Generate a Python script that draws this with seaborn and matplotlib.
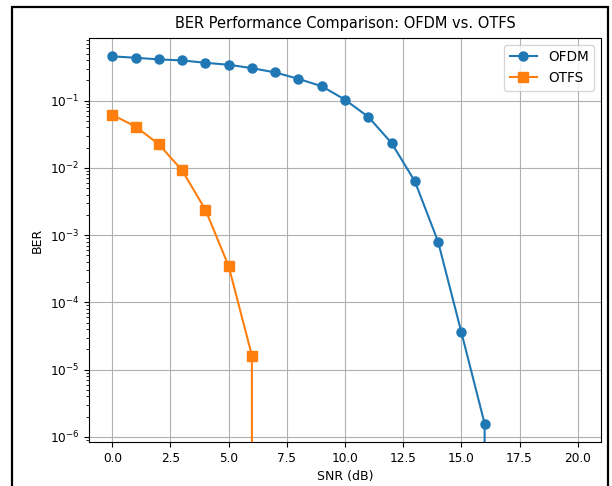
import numpy as np
import pandas as pd
import matplotlib
matplotlib.use("Agg")
import matplotlib.pyplot as plt
import seaborn as sns
from matplotlib.patches import Rectangle

# SNR points (dB)
snr_db = list(range(0, 21))

# BER values (0 = no errors, clipped on the log axis)
ber_ofdm = [0.456, 0.435, 0.411, 0.397, 0.366, 0.342, 0.305, 0.263, 0.211, 0.164,
            0.1035, 0.0575, 0.0235, 0.00634, 8.0e-4, 3.6e-5, 1.57e-6,
            0, 0, 0, 0]
ber_otfs = [0.0617, 0.0412, 0.0225, 0.0092, 0.0024, 3.47e-4, 1.62e-5,
            0, 0, 0, 0, 0, 0, 0, 0, 0, 0, 0, 0, 0, 0]

series_names = ["OFDM", "OTFS"]
series_markers = ["o", "s"]
series_colors = ["#1f77b4", "#ff7f0e"]

df = pd.DataFrame({"snr": snr_db, "OFDM": ber_ofdm, "OTFS": ber_otfs})

fig = plt.figure(figsize=(6.12, 4.86), dpi=100)
ax = fig.add_axes([0.1454, 0.0905, 0.8366, 0.8313])

for name, marker, color in zip(series_names, series_markers, series_colors):
    sns.lineplot(
        data=df,
        x="snr",
        y=name,
        marker=marker,
        color=color,
        label=name,
        markersize=6.5,
        markeredgecolor=color,
        markeredgewidth=1,
        linewidth=1.5,
        ax=ax,
    )

ax.set_yscale("log")
ax.set_title("BER Performance Comparison: OFDM vs. OTFS", fontsize=10.5, pad=7.5)
ax.set_xlabel("SNR (dB)", fontsize=9)
ax.set_ylabel("BER", fontsize=9)
ax.tick_params(labelsize=8.7)
ax.grid(True, which="major", color="#b0b0b0", linewidth=0.8)
ax.legend(loc="upper right", fontsize=9.8)

# screenshot frame around the figure
fig.patches.append(Rectangle((12 / 612, -0.05), 596 / 612, 1 - 7 / 486 + 0.05,
                             transform=fig.transFigure, fill=False,
                             edgecolor="black", linewidth=1.6))

fig.savefig("out.png", dpi=100)
